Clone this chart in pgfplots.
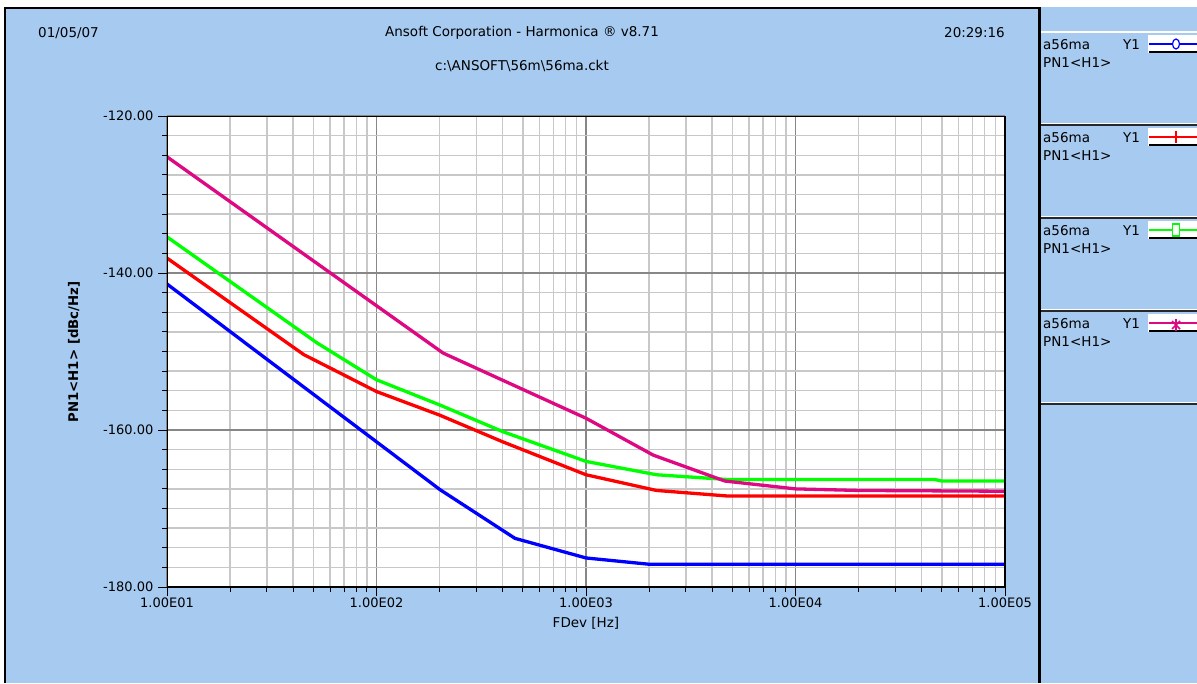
\documentclass[border=0pt]{standalone}
\usepackage{fontspec}
\setmainfont{DejaVu Sans}
\usepackage{pgfplots}
\pgfplotsset{compat=1.18}
\definecolor{panelblue}{RGB}{166,202,240}
\definecolor{pnkmag}{RGB}{222,8,130}
\definecolor{minorg}{RGB}{200,200,200}
\definecolor{majorg}{RGB}{135,135,135}
\definecolor{sepg}{RGB}{40,40,40}
\begin{document}
\fontsize{13.5}{15}\selectfont
\begin{tikzpicture}
\useasboundingbox (0,0) rectangle (1197pt,-683pt);
\begin{scope}[x=1pt,y=-1pt]
\fill[white] (0,0) rectangle (1197,683);
\fill[panelblue] (4,7) rectangle (1197,683);
\draw[black,line width=1.5pt] (4.75,683) -- (4.75,7.75) -- (1039,7.75);
\draw[black,line width=3pt] (1039.5,7) -- (1039.5,683);
% header texts
\node[anchor=west,inner sep=0] at (38,33) {01/05/07};
\node[inner sep=0] at (522,33) {Ansoft Corporation - Harmonica ® v8.71};
\node[anchor=east,inner sep=0] at (1005,33) {20:29:16};
\node[inner sep=0] at (522,66) {c:\textbackslash ANSOFT\textbackslash 56m\textbackslash 56ma.ckt};
\node[inner sep=0] at (586,623) {FDev [Hz]};
\node[rotate=90,inner sep=0,font=\bfseries\fontsize{13.3}{15}\selectfont] at (74,352) {PN1<H1> [dBc/Hz]};
% legend panel
\draw[white,line width=1.5pt] (1041,32) -- (1197,32);
\foreach \i/\c in {0/blue,1/red,2/green,3/pnkmag} {
  \pgfmathsetmacro{\yo}{32+93*\i}
  \node[anchor=west,inner sep=0] at (1043,\yo+13) {a56ma};
  \node[anchor=west,inner sep=0] at (1123,\yo+13) {Y1};
  \node[anchor=west,inner sep=0] at (1043,\yo+31) {PN1<H1>};
  \fill[white] (1148,\yo+3) rectangle (1197,\yo+21);
  \draw[\c,line width=1.2pt] (1149,\yo+12) -- (1197,\yo+12);
  \draw[black,line width=2pt] (1149,\yo+20) -- (1197,\yo+20);
  \draw[white,line width=1pt] (1041,\yo+91.5) -- (1197,\yo+91.5);
  \draw[sepg,line width=2pt] (1041,\yo+93) -- (1197,\yo+93);
}
\draw[blue,line width=1.2pt,fill=white] (1176,44) ellipse (3.5 and 5);
\draw[red,line width=1.5pt] (1176,131) -- (1176,143);
\draw[green,line width=1.5pt,fill=white] (1172.5,224) rectangle (1179.5,236);
\draw[pnkmag,line width=1.6pt] (1176,319) -- (1176,331) (1172,321) -- (1180,329) (1172,329) -- (1180,321);
\end{scope}
\begin{axis}[
  at={(167pt,-587pt)}, anchor=south west,
  scale only axis, width=838pt, height=471pt,
  xmode=log, xmin=10, xmax=100000, ymin=-180, ymax=-120,
  xtick={10,100,1000,10000,100000},
  xticklabels={1.00E01,1.00E02,1.00E03,1.00E04,1.00E05},
  ytick={-180,-160,-140,-120},
  yticklabels={-180.00,-160.00,-140.00,-120.00},
  minor y tick num=7,
  grid=both,
  major grid style={draw=majorg,line width=1.4pt},
  minor grid style={draw=minorg,line width=1.4pt},
  axis background/.style={fill=white},
  axis line style={black,line width=1pt},
  tick align=outside, tick pos=left,
  major tick length=9pt, minor tick length=5pt,
  every tick/.style={black,line width=1pt},
  tick label style={font=\fontsize{13}{15}\selectfont},
  xticklabel style={yshift=3pt},
  clip=true,
]
\addplot[blue,line width=3.3pt] coordinates {
 (10,-141.4) (201,-167.6) (458,-173.8) (1000,-176.3) (2000,-177.1) (100000,-177.1)};
\addplot[red,line width=3.3pt] coordinates {
 (10,-138.1) (45,-150.4) (100,-155.1) (200,-158.1) (400,-161.5) (1000,-165.7) (2170,-167.7) (4700,-168.4) (100000,-168.4)};
\addplot[green,line width=3.3pt] coordinates {
 (10,-135.4) (52,-148.9) (100,-153.6) (200,-156.8) (400,-160.2) (1000,-164.0) (2170,-165.7) (4700,-166.3) (46000,-166.3) (50000,-166.5) (100000,-166.5)};
\addplot[pnkmag,line width=3.3pt] coordinates {
 (10,-125.2) (208,-150.2) (1000,-158.5) (2094,-163.2) (4600,-166.5) (10000,-167.5) (20000,-167.7) (100000,-167.8)};
\draw[black,line width=3pt] (rel axis cs:0,0) -- (rel axis cs:1,0);
\draw[black,line width=2pt] (rel axis cs:0,0) -- (rel axis cs:0,1);
\draw[black,line width=2pt] (rel axis cs:1,0) -- (rel axis cs:1,1);
\end{axis}
\end{tikzpicture}
\end{document}
